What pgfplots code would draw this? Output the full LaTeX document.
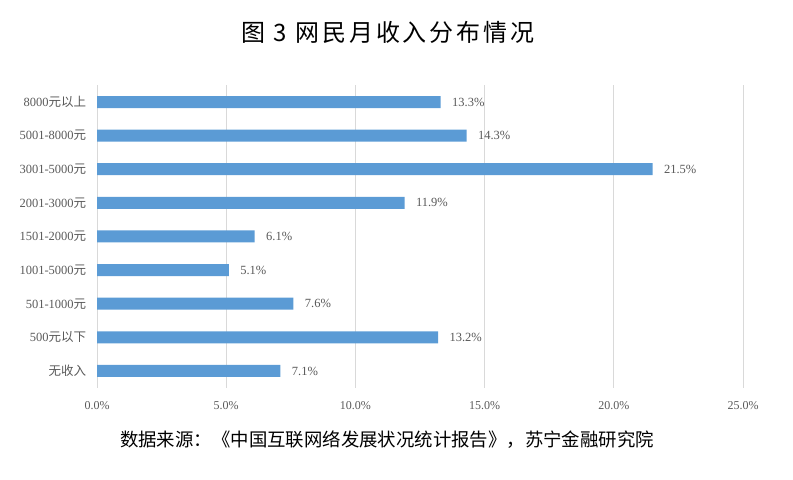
\documentclass[border=0pt]{standalone}
\usepackage{fontspec}
\setmainfont{Liberation Serif}
\newfontfamily\cjk{Noto Sans CJK SC}
\newfontfamily\cjktitle[LetterSpace=12]{Noto Sans CJK SC}
\usepackage{pgfplots}
\pgfplotsset{compat=1.18}
\definecolor{barblue}{HTML}{5B9BD5}
\definecolor{lblgray}{HTML}{595959}
\definecolor{gridgray}{HTML}{D9D9D9}
\begin{document}
\begin{tikzpicture}[x=1bp,y=1bp]
\path[use as bounding box] (0,0) rectangle (793,480);
\begin{axis}[
  at={(97bp,92.2bp)}, anchor=south west,
  scale only axis, width=646bp, height=302.6bp,
  xbar, bar width=12bp,
  xmin=0, xmax=25, ymin=-0.5, ymax=8.5,
  xtick={0,5,10,15,20,25},
  ytick={0,1,2,3,4,5,6,7,8},
  yticklabels={{\cjk 无收入},{500\cjk 元以下},{501-1000\cjk 元},{1001-5000\cjk 元},{1501-2000\cjk 元},{2001-3000\cjk 元},{3001-5000\cjk 元},{5001-8000\cjk 元},{8000\cjk 元以上}},
  xticklabel={\pgfmathprintnumber[fixed,fixed zerofill,precision=1]{\tick}\%},
  /pgf/number format/assume math mode=true,
  xticklabel style={font=\fontsize{12bp}{13bp}\selectfont, text=lblgray, yshift=-10bp},
  yticklabel style={font=\fontsize{12.5bp}{13bp}\selectfont, text=lblgray, xshift=-3bp},
  axis line style={draw=none},
  tick style={draw=none},
  xmajorgrids=true,
  grid style={draw=gridgray, line width=0.8bp},
  point meta=x,
  nodes near coords={\pgfmathprintnumber[fixed,fixed zerofill,precision=1]{\pgfplotspointmeta}\%},
  nodes near coords style={anchor=west, xshift=8bp, font=\fontsize{12.5bp}{13bp}\selectfont, text=lblgray},
]
\addplot[fill=barblue, draw=none] coordinates {
 (7.1,0) (13.2,1) (7.6,2) (5.1,3) (6.1,4) (11.9,5) (21.5,6) (14.3,7) (13.3,8)
};
\end{axis}
\node[font=\fontsize{24bp}{26bp}\selectfont\cjktitle, text=black] at (388,448) {图 3 网民月收入分布情况};
\node[font=\fontsize{18.4bp}{20bp}\selectfont\cjk, text=black] at (387,40) {数据来源：《中国互联网络发展状况统计报告》，苏宁金融研究院};
\end{tikzpicture}
\end{document}
